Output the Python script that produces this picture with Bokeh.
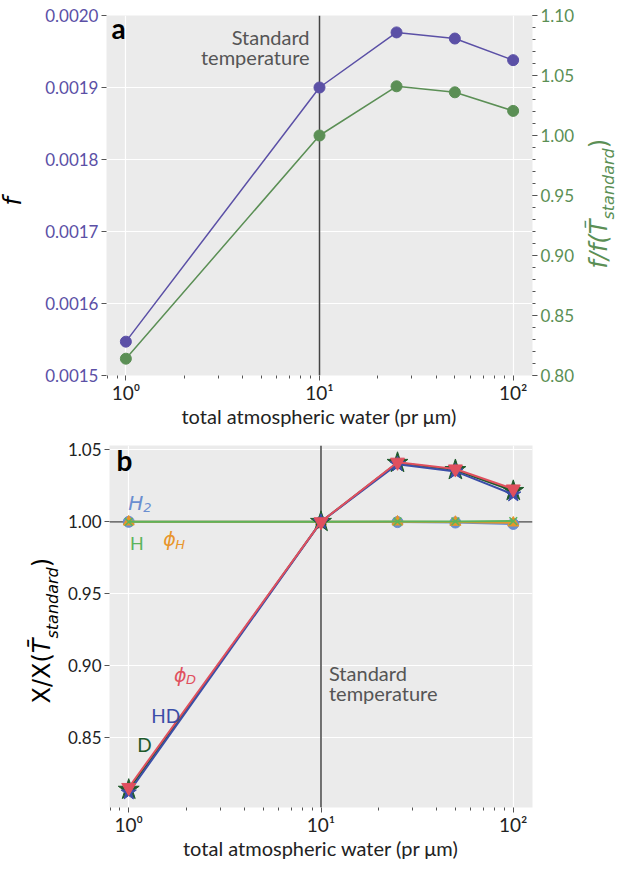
import math
from bokeh.plotting import figure
from bokeh.models import Range1d, LinearAxis, Span, Label, FixedTicker, PrintfTickFormatter
from bokeh.layouts import column, row
from bokeh.embed import file_html
from bokeh.resources import INLINE

# ---------------- data ----------------
water = [1, 10, 25, 50, 100]
f_vals = [0.001547, 0.001900, 0.0019765, 0.001968, 0.001938]
f_ratio = [0.814, 1.000, 1.041, 1.036, 1.0205]

b_H2 = [1.0000, 1.0000, 0.9998, 0.9995, 0.9985]
b_H = [1.0000, 1.0000, 1.0002, 1.0003, 1.0005]
b_phiH = [1.0000, 1.0000, 1.0000, 0.9998, 0.9993]
b_D = [0.8140, 1.0000, 1.0410, 1.0360, 1.0215]
b_HD = [0.8120, 1.0000, 1.0400, 1.0350, 1.0190]
b_phiD = [0.8155, 1.0000, 1.0414, 1.0367, 1.0228]

x_major = [1, 10, 100]
x_tick_labels = {1: "10⁰", 10: "10¹", 100: "10²"}
fa_ticks = [0.0015, 0.0016, 0.0017, 0.0018, 0.0019, 0.0020]
ratio_ticks = [0.80, 0.85, 0.90, 0.95, 1.00, 1.05, 1.10]
b_ticks = [0.85, 0.90, 0.95, 1.00, 1.05]

x_label = "total atmospheric water (pr μm)"
std_text = ["Standard", "temperature"]

# ---------------- style ----------------
PURPLE = "#5b50a6"
GREEN_A = "#5b8f55"
C_H2 = "#6a8ed0"
C_H = "#5cb45c"
C_PHIH = "#e8952a"
C_PHID = "#e0505e"
C_HD = "#3b4ea8"
C_D = "#1f5a2c"
BG = "#ebebeb"
FONT = "Lato"
MATH = "DejaVu Sans"
BASE_K = 0.35   # renderer draws the baseline ~0.35em below the anchor

xr = (10 ** -0.1, 10 ** 2.1)
x_minor = [m * 10 ** k for k in range(-1, 3) for m in range(2, 10)
           if xr[0] <= m * 10 ** k <= xr[1]]


def style(p):
    p.background_fill_color = BG
    p.border_fill_color = "white"
    p.outline_line_color = None
    p.grid.grid_line_color = "white"
    p.grid.grid_line_width = 1.2
    for ax in p.axis:
        ax.axis_line_color = None
        ax.major_tick_in = 0
        ax.major_tick_out = 5
        ax.minor_tick_in = 0
        ax.minor_tick_out = 3
        ax.major_tick_line_color = "#555555"
        ax.minor_tick_line_color = "#555555"
        ax.major_label_text_font = FONT
        ax.axis_label_text_font = FONT
        ax.axis_label_text_font_style = "normal"
        ax.major_label_standoff = 3
    p.xaxis.ticker = FixedTicker(ticks=x_major, minor_ticks=x_minor)
    p.xaxis.major_label_overrides = x_tick_labels
    p.xaxis.major_label_text_font_size = "19px"
    p.xaxis.major_label_text_color = "#222222"
    p.xaxis.major_label_standoff = 0
    p.xaxis.axis_label = x_label
    p.xaxis.axis_label_text_font_size = "20px"
    p.xaxis.axis_label_text_color = "#222222"
    p.xaxis.axis_label_standoff = -3


def lab(p, x, y, text, size, color, font=FONT, st="normal", align="left",
        units="data", dx=0, dy=0):
    p.add_layout(Label(x=x, y=y, x_units=units, y_units=units, text=text,
                       x_offset=dx, y_offset=dy + BASE_K * size,
                       text_font=font, text_font_size=f"{size}px",
                       text_font_style=st, text_color=color, text_align=align,
                       text_baseline="alphabetic"))


W = {'X': 0.685, '/': 0.337, '(': 0.390, ')': 0.390, 'T': 0.611, 'f': 0.352,
     's': 0.521, 't': 0.392, 'a': 0.613, 'n': 0.634, 'd': 0.635, 'r': 0.411,
     '\u0304': 0.0}


def label_fig(width, height):
    f = figure(width=width, height=height, x_range=Range1d(0, 1), y_range=Range1d(0, 1),
               x_axis_location=None, y_axis_location=None, min_border=0,
               output_backend="svg", toolbar_location=None)
    f.outline_line_color = None
    f.background_fill_color = "white"
    f.border_fill_color = "white"
    f.grid.visible = False
    return f


def rot_label(p, segs, y0, color):
    """segs: (text, size, style, baseline x in px); y measured from frame bottom"""
    y = y0
    for text, size, st, bx in segs:
        p.add_layout(Label(x=bx - BASE_K * size, y=y, x_units="screen", y_units="screen",
                           text=text, angle=math.pi / 2, text_font=MATH,
                           text_font_size=f"{size}px", text_font_style=st,
                           text_color=color, text_align="left",
                           text_baseline="alphabetic"))
        y += sum(W.get(c, 0.6) for c in text) * size


# ---------------- panel a ----------------
p1 = figure(width=550, height=440, x_axis_type="log",
            x_range=Range1d(*xr), y_range=Range1d(0.0015, 0.0020),
            output_backend="svg", toolbar_location=None,
            min_border_left=72, min_border_right=52,
            min_border_top=15, min_border_bottom=65)
p1.extra_y_ranges = {"ratio": Range1d(0.80, 1.10)}
p1.add_layout(LinearAxis(y_range_name="ratio"), "right")
style(p1)

p1.yaxis[0].ticker = FixedTicker(ticks=fa_ticks)
p1.yaxis[0].formatter = PrintfTickFormatter(format="%.4f")
p1.yaxis[0].major_label_text_color = PURPLE
p1.yaxis[0].major_label_text_font_size = "17px"
p1.yaxis[1].ticker = FixedTicker(ticks=ratio_ticks,
                                 minor_ticks=[round(0.80 + 0.01 * i, 2) for i in range(31)])
p1.yaxis[1].formatter = PrintfTickFormatter(format="%.2f")
p1.yaxis[1].major_label_text_color = GREEN_A
p1.yaxis[1].major_label_text_font_size = "17px"

p1.add_layout(Span(location=10, dimension="height", line_color="#444444",
                   line_width=1.5, level="underlay"))

p1.line(water, f_vals, line_color=PURPLE, line_width=1.5)
p1.scatter(water, f_vals, size=11, fill_color=PURPLE, line_color=PURPLE)
p1.line(water, f_ratio, line_color=GREEN_A, line_width=1.5, y_range_name="ratio")
p1.scatter(water, f_ratio, size=11, fill_color=GREEN_A, line_color=GREEN_A,
           y_range_name="ratio")

for txt, yv in zip(std_text, [0.0019607, 0.0019329]):
    lab(p1, 8.886, yv, txt, 20, "#555555", align="right")

lab(p1, 5, 338, "a", 28, "black", st="bold", units="screen")

# side label figures (their frames align with the neighbouring plot frame)
la = label_fig(34, 440)
rot_label(la, [("f", 24, "italic", 21)], 170, "black")
ra = label_fig(39, 440)
rot_label(ra, [("f/f(", 24, "italic", 23), ("T\u0304", 24, "italic", 23),
               ("standard", 16, "italic", 30), (")", 24, "normal", 23)],
          107, GREEN_A)

# ---------------- panel b ----------------
p2 = figure(width=559, height=430, x_axis_type="log",
            x_range=Range1d(*xr), y_range=Range1d(0.8016, 1.0530),
            output_backend="svg", toolbar_location=None,
            min_border_left=42, min_border_right=91,
            min_border_top=5, min_border_bottom=63)
style(p2)
p2.yaxis.ticker = FixedTicker(ticks=b_ticks)
p2.yaxis.formatter = PrintfTickFormatter(format="%.2f")
p2.yaxis.major_label_text_color = "#222222"
p2.yaxis.major_label_text_font_size = "17px"

p2.add_layout(Span(location=10, dimension="height", line_color="#444444",
                   line_width=1.5, level="underlay"))
p2.add_layout(Span(location=1.0, dimension="width", line_color="#444444",
                   line_width=1.2, level="underlay"))

p2.line(water, b_H2, line_color=C_H2, line_width=2)
p2.scatter(water, b_H2, size=11, fill_color=C_H2, line_color=C_H2)
p2.line(water, b_phiH, line_color=C_PHIH, line_width=2)
p2.scatter(water, b_phiH, marker="triangle", size=11, fill_color=C_PHIH, line_color=C_PHIH)
p2.line(water, b_H, line_color=C_H, line_width=2)
p2.scatter(water, b_H, marker="x", size=11, line_color=C_H, line_width=1.5)

p2.line(water, b_D, line_color=C_D, line_width=2)
p2.scatter(water, b_D, marker="star", size=22, fill_color=C_D, line_color=C_D)
p2.line(water, b_HD, line_color=C_HD, line_width=2)
p2.scatter(water, b_HD, marker="star", size=16, fill_color=C_HD, line_color=C_HD)
p2.line(water, b_phiD, line_color=C_PHID, line_width=2)
p2.scatter(water, b_phiD, marker="inverted_triangle", size=14,
           fill_color=C_PHID, line_color=C_PHID)

for txt, yv in zip(std_text, [0.8903, 0.8764]):
    lab(p2, 11.0, yv, txt, 20, "#555555")

lab(p2, 7, 338, "b", 28, "black", st="bold", units="screen")


def series_label(p, x, y, main, sub, color, main_style, main_font, size=19,
                 sub_dx=0, sub_dy=0):
    lab(p, x, y, main, size, color, font=main_font, st=main_style)
    if sub:
        lab(p, x, y, sub, 13, color, font=MATH, st="italic", dx=sub_dx, dy=sub_dy)


series_label(p2, 0.995, 1.0085, "H", "2", C_H2, "italic", MATH, 20, 15, -2)
series_label(p2, 1.016, 0.9808, "H", None, C_H, "normal", FONT, 18)
series_label(p2, 1.51, 0.9835, "ϕ", "H", C_PHIH, "italic", MATH, 19, 12, -3)
series_label(p2, 1.72, 0.8891, "ϕ", "D", C_PHID, "italic", MATH, 19, 12, -3)
series_label(p2, 1.31, 0.8607, "HD", None, C_HD, "normal", FONT, 19)
series_label(p2, 1.108, 0.8405, "D", None, C_D, "normal", FONT, 19)

lb = label_fig(64, 430)
rot_label(lb, [("X/X(", 24, "normal", 50), ("T\u0304", 24, "italic", 50),
               ("standard", 16, "italic", 58), (")", 24, "normal", 50)],
          104, "black")

layout = column(row(la, p1, ra), row(lb, p2))
open("out.html", "w").write(file_html(layout, INLINE))
